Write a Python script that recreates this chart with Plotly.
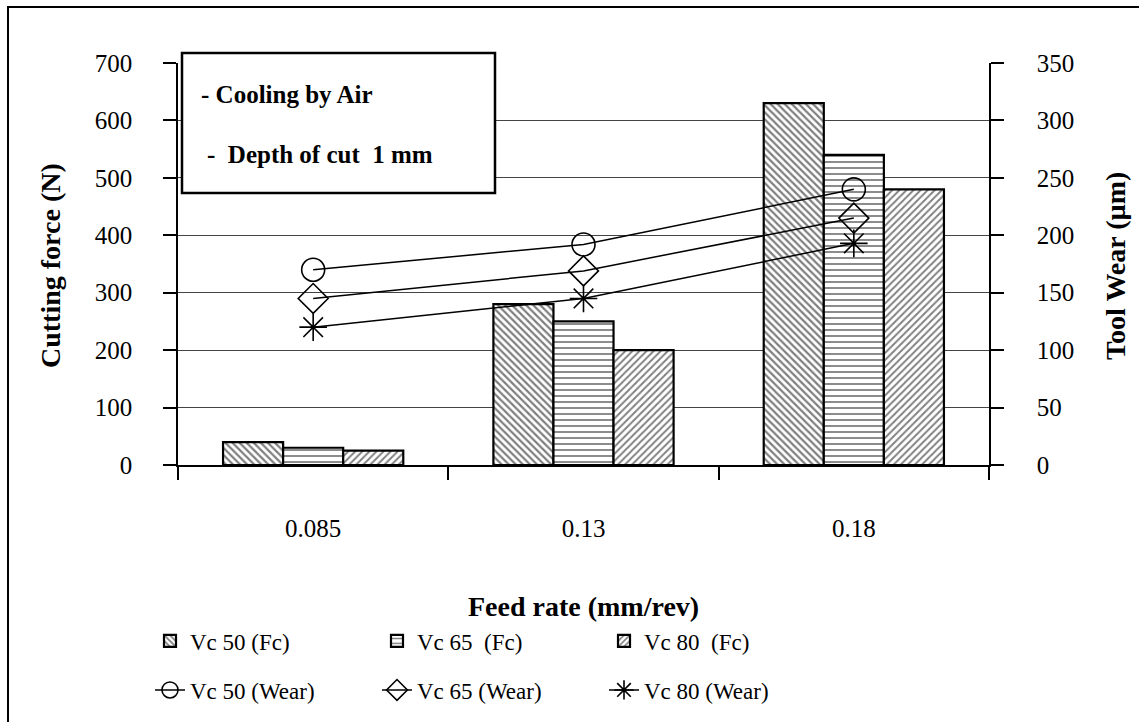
import plotly.graph_objects as go

# Feed rates (categories)
feed_rates = ["0.085", "0.13", "0.18"]

# Cutting force Fc (N) per cutting speed
fc_vc50 = [40, 280, 630]
fc_vc65 = [30, 250, 540]
fc_vc80 = [25, 200, 480]

# Tool wear (µm) per cutting speed
wear_vc50 = [170, 192, 240]
wear_vc65 = [145, 169, 215]
wear_vc80 = [120, 145, 193]

force_ticks = [0, 100, 200, 300, 400, 500, 600, 700]
wear_ticks = [0, 50, 100, 150, 200, 250, 300, 350]

FONT = "Liberation Serif, Times New Roman, serif"
W, H = 1139, 722
L, R, T, B = 178, 150, 63, 257
PW, PH = W - L - R, H - T - B


def px_x(px):
    return (px - L) / PW


def px_y(py):
    return (H - B - py) / PH


fig = go.Figure()

bar_styles = [
    ("Vc 50 (Fc)", fc_vc50, dict(shape="\\", size=5, solidity=0.45)),
    ("Vc 65  (Fc)", fc_vc65, dict(shape="-", size=6, solidity=0.3)),
    ("Vc 80  (Fc)", fc_vc80, dict(shape="/", size=5, solidity=0.38)),
]
for name, vals, pat in bar_styles:
    fig.add_trace(go.Bar(
        x=feed_rates, y=vals, name=name, legend="legend",
        marker=dict(color="white", line=dict(color="black", width=2.2),
                    pattern=dict(fgcolor="black", bgcolor="white", **pat)),
    ))

line_styles = [
    ("Vc 50 (Wear)", wear_vc50, "circle-open"),
    ("Vc 65 (Wear)", wear_vc65, "diamond-open"),
    ("Vc 80 (Wear)", wear_vc80, "asterisk-open"),
]
for name, vals, sym in line_styles:
    fig.add_trace(go.Scatter(
        x=feed_rates, y=vals, name=name, yaxis="y2", legend="legend2",
        mode="lines+markers",
        line=dict(color="black", width=1.5),
        marker=dict(symbol=sym, size=23, color="black",
                    line=dict(color="black", width=1.6)),
    ))

tick_font = dict(family=FONT, size=25, color="black")
legend_common = dict(
    orientation="h", xanchor="left", yanchor="middle",
    font=dict(family=FONT, size=23, color="black"),
    entrywidth=182, bgcolor="rgba(0,0,0,0)", itemwidth=30,
)

fig.update_layout(
    width=W, height=H,
    margin=dict(l=L, r=R, t=T, b=B, autoexpand=False),
    paper_bgcolor="white", plot_bgcolor="white",
    barmode="group", bargap=1 / 3, bargroupgap=0,
    font=dict(family=FONT, color="black"),
    xaxis=dict(
        type="category", range=[-0.5, 2.5],
        showgrid=False, showline=True, linecolor="black", linewidth=1.5,
        ticks="outside", tickson="boundaries", ticklen=13, tickcolor="black",
        tickwidth=1.5, tickfont=tick_font, ticklabelstandoff=40,
    ),
    yaxis=dict(
        range=[0, 700], tickvals=force_ticks,
        showgrid=True, gridcolor="#444444", gridwidth=1,
        showline=True, linecolor="black", linewidth=1.5,
        ticks="outside", ticklen=13, tickcolor="black", tickwidth=1.5,
        tickfont=tick_font, ticklabelstandoff=26, zeroline=False,
    ),
    yaxis2=dict(
        range=[0, 350], tickvals=wear_ticks, overlaying="y", side="right",
        showgrid=False, showline=True, linecolor="black", linewidth=1.5,
        ticks="outside", ticklen=13, tickcolor="black", tickwidth=1.5,
        tickfont=tick_font, ticklabelstandoff=28, zeroline=False,
    ),
    legend=dict(x=px_x(150), y=px_y(641), **legend_common),
    legend2=dict(x=px_x(150), y=px_y(690), **legend_common),
    showlegend=True,
)

# Outer frame and the note box
fig.add_shape(type="rect", xref="paper", yref="paper",
              x0=px_x(8), x1=px_x(1200), y0=px_y(800), y1=px_y(7),
              line=dict(color="black", width=2), fillcolor="rgba(0,0,0,0)",
              layer="below")
fig.add_shape(type="rect", xref="paper", yref="paper",
              x0=px_x(182), x1=px_x(495), y0=px_y(193), y1=px_y(53),
              line=dict(color="black", width=2.5), fillcolor="white",
              layer="above")

note_font = dict(family=FONT, size=25, color="black")
fig.add_annotation(text="<b>- Cooling by Air</b>", xref="paper", yref="paper",
                   x=px_x(199), y=px_y(95), xanchor="left", yanchor="middle",
                   showarrow=False, font=note_font)
fig.add_annotation(text="<b>-  Depth of cut  1 mm</b>", xref="paper", yref="paper",
                   x=px_x(205), y=px_y(154), xanchor="left", yanchor="middle",
                   showarrow=False, font=note_font)

title_font = dict(family=FONT, size=28, color="black")
fig.add_annotation(text="<b>Feed rate (mm/rev)</b>", xref="paper", yref="paper",
                   x=px_x(583), y=px_y(606), xanchor="center", yanchor="middle",
                   showarrow=False, font=title_font)
fig.add_annotation(text="<b>Cutting force (N)</b>", xref="paper", yref="paper",
                   x=px_x(50), y=px_y(266), xanchor="center", yanchor="middle",
                   textangle=-90, showarrow=False, font=title_font)
fig.add_annotation(text="<b>Tool Wear (µm)</b>", xref="paper", yref="paper",
                   x=px_x(1115), y=px_y(266), xanchor="center", yanchor="middle",
                   textangle=-90, showarrow=False, font=title_font)

fig.write_html("out.html")
